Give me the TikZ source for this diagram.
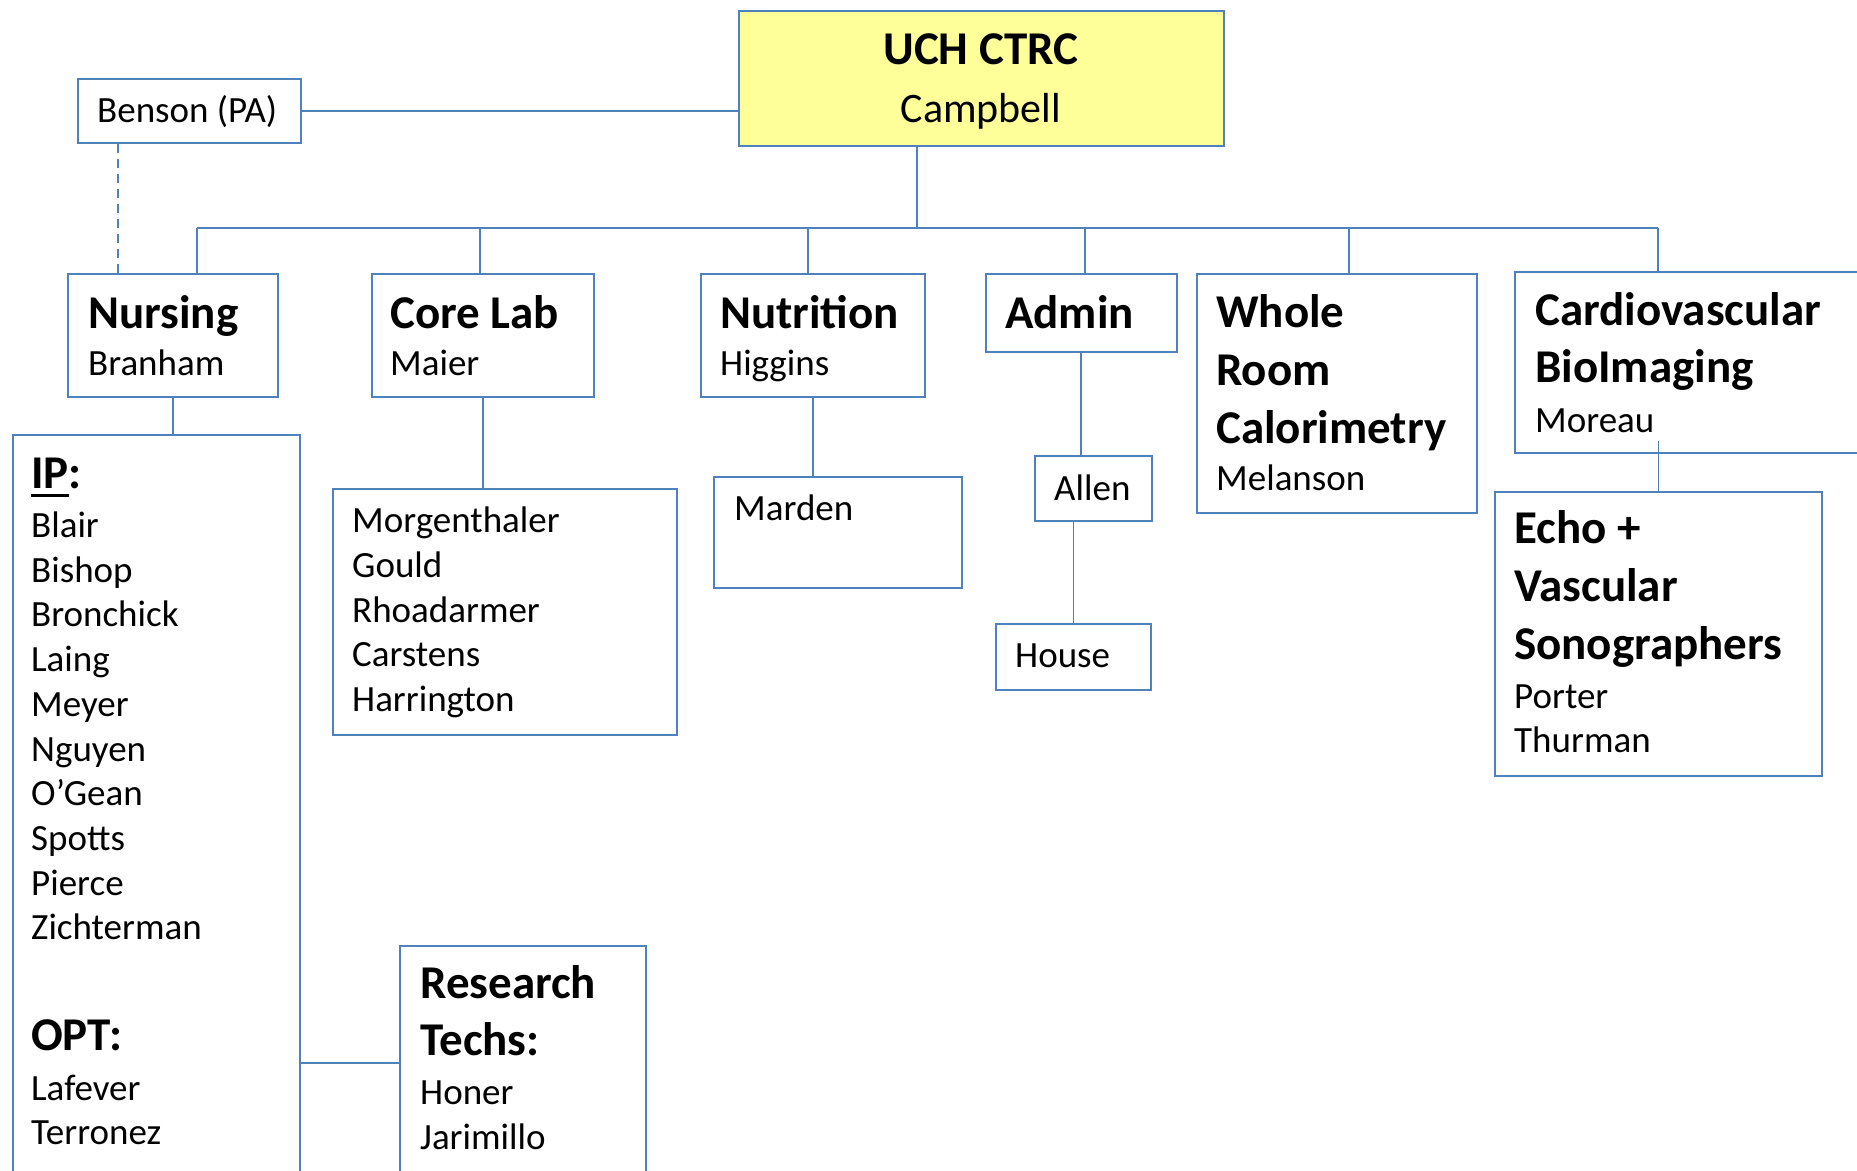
\documentclass[tikz,border=0pt]{standalone}
\usepackage{fontspec}
\setmainfont{Carlito}
\usetikzlibrary{positioning}
\definecolor{orgblue}{HTML}{4F81BD}
\definecolor{topyellow}{HTML}{FFFF99}
\newcommand{\hd}[1]{{\fontsize{47}{58}\selectfont\bfseries #1}}
\newcommand{\ulbar}[1]{\setbox0\hbox{#1}\rlap{\rule[-9pt]{\wd0}{3pt}}\box0}
\tikzset{
  unit/.style={draw=orgblue, line width=2.1pt, rectangle, inner sep=0pt, anchor=north west},
  names/.style={inner sep=0pt, anchor=base west, align=left,
    font={\fontsize{37}{44.7}\selectfont\lineskiplimit=-100pt}},
  link/.style={draw=orgblue, line width=1.6pt},
}
\begin{document}
\begin{tikzpicture}[x=1pt, y=-1pt]
    \useasboundingbox (0,0) rectangle (1857,1170);
    \clip (0,0) rectangle (1857,1170);

    % Kaesten
    \node[unit, fill=topyellow, minimum width=485, minimum height=135] (uch) at (738,10) {};
    \node[unit, minimum width=223, minimum height=64] (benson) at (77,78) {};
    \node[unit, minimum width=210.5, minimum height=123] (nursing) at (66.5,273) {};
    \node[unit, minimum width=222.6, minimum height=123] (corelab) at (370.7,273) {};
    \node[unit, minimum width=223.7, minimum height=123] (nutrition) at (700,273) {};
    \node[unit, minimum width=191, minimum height=78] (admin) at (984.7,273) {};
    \node[unit, minimum width=280, minimum height=239] (whole) at (1196,273) {};
    \node[unit, minimum width=400, minimum height=181] (cardio) at (1514,271) {};
    \node[unit, minimum width=287, minimum height=800] (ip) at (11.5,434) {};
    \node[unit, minimum width=344, minimum height=246] (morg) at (332,488) {};
    \node[unit, minimum width=248.4, minimum height=110.6] (marden) at (712.6,476) {};
    \node[unit, minimum width=117, minimum height=65] (allen) at (1034,455) {};
    \node[unit, minimum width=154.6, minimum height=65.5] (house) at (995,623) {};
    \node[unit, minimum width=327, minimum height=284] (echo) at (1494,491) {};
    \node[unit, minimum width=246, minimum height=234] (research) at (399,945) {};

    % Texte (Grundlinie der letzten Zeile)
    \node[names, anchor=base, align=center] (uchtxt) at (981,122)
        {\hd{UCH CTRC}\\[13.3pt]{\fontsize{42}{50}\selectfont Campbell}};
    \node[names] (bensontxt) at (97,122) {Benson (PA)};
    \node[names] (nursingtxt) at (88,375) {\hd{Nursing}\\[2.3pt]Branham};
    \node[names] (corelabtxt) at (390,375) {\hd{Core Lab}\\[2.3pt]Maier};
    \node[names] (nutritiontxt) at (720,375) {\hd{Nutrition}\\[2.3pt]Higgins};
    \node[names] (admintxt) at (1005,328) {\hd{Admin}};
    \node[names] (wholetxt) at (1216,490)
        {\hd{Whole}\\[13.3pt]\hd{Room}\\[13.3pt]\hd{Calorimetry}\\[2.3pt]Melanson};
    \node[names] (cardiotxt) at (1535,432)
        {\hd{Cardiovascular}\\[12.3pt]\hd{BioImaging}\\[5.3pt]Moreau};
    \node[names] (echotxt) at (1514,752.7)
        {\hd{Echo +}\\[13.3pt]\hd{Vascular}\\[13.3pt]\hd{Sonographers}\\[4.3pt]Porter\\Thurman};
    \node[names] (iptxt) at (31,939.8)
        {\hd{\ulbar{IP}:}\\[4.8pt]Blair\\Bishop\\Bronchick\\Laing\\Meyer\\Nguyen\\O’Gean\\Spotts\\Pierce\\Zichterman};
    \node[names] (opttxt) at (31,1144.8) {\hd{OPT:}\\[4.8pt]Lafever\\Terronez};
    \node[names] (morgtxt) at (352,711.4) {Morgenthaler\\Gould\\Rhoadarmer\\Carstens\\Harrington};
    \node[names] (mardentxt) at (734,520) {Marden};
    \node[names] (allentxt) at (1054,500) {Allen};
    \node[names] (housetxt) at (1015,667.5) {House};
    \node[names] (researchtxt) at (420,1149)
        {\hd{Research}\\[12pt]\hd{Techs:}\\[4.3pt]Honer\\Jarimillo};

    % Verbindungen
    \coordinate (bustop) at (917,228);
    \coordinate (d1) at (197,228);
    \coordinate (d2) at (480,228);
    \coordinate (d3) at (808,228);
    \coordinate (d4) at (1085,228);
    \coordinate (d5) at (1349,228);
    \coordinate (d6) at (1658,228);
    \coordinate (pa) at (118,200);

    \draw[link] (benson.east) -- (benson.east -| uch.west);
    \draw[orgblue, line width=1.1pt, dash pattern=on 9pt off 6pt] (benson.south -| pa) -- (nursing.north -| pa);
    \draw[link] (uch.south -| bustop) -- (bustop);
    \draw[link] (d1) -- (d6);
    \draw[link] (d1) -- (d1 |- nursing.north);
    \draw[link] (d2) -- (d2 |- corelab.north);
    \draw[link] (d3) -- (d3 |- nutrition.north);
    \draw[link] (d4) -- (d4 |- admin.north);
    \draw[link] (d5) -- (d5 |- whole.north);
    \draw[link] (d6) -- (d6 |- cardio.north);

    \draw[link] (nursing.south) -- (nursing.south |- ip.north);
    \draw[link] (corelab.south) -- (corelab.south |- morg.north);
    \draw[link] (nutrition.south) -- (nutrition.south |- marden.north);
    \draw[link] (admin.south) -- (admin.south |- allen.north);
    \draw[link] (house.north) -- (house.north |- allen.south);
    \draw[link] (echo.north) -- ++(0,-50);
    \draw[link] (research.west) -- (research.west -| ip.east);
\end{tikzpicture}
\end{document}
